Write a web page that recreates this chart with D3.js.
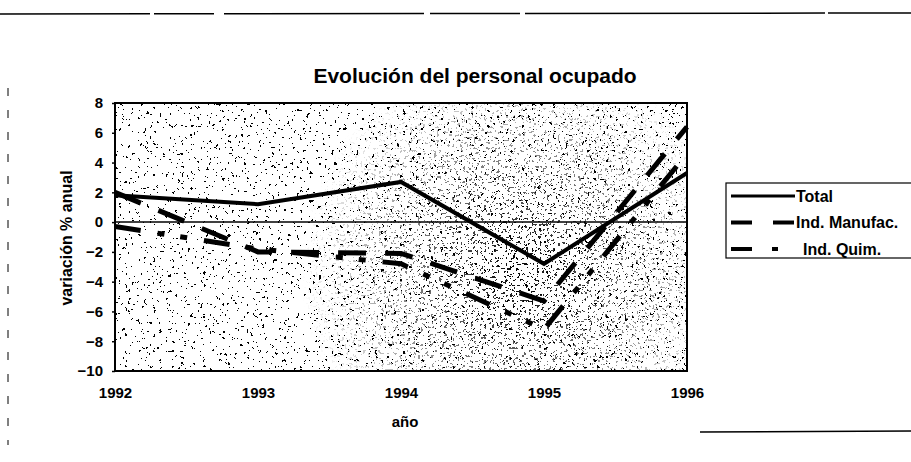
<!DOCTYPE html>
<html>
<head>
<meta charset="utf-8">
<script src="https://cdn.jsdelivr.net/npm/d3@7/dist/d3.min.js"></script>
<style>
  html, body { margin: 0; padding: 0; background: #fff; }
  svg { display: block; }
  text { font-family: "Liberation Sans", Arial, sans-serif; fill: #000; }
</style>
</head>
<body>
<svg id="chart" width="911" height="462"></svg>
<script>
// ---- data ----
const years = ["1992", "1993", "1994", "1995", "1996"];
const total = [1.8, 1.2, 2.7, -2.8, 3.3];
const manufac = [2.0, -2.0, -2.1, -5.3, 6.4];
const quim = [-0.3, -1.8, -2.8, -7.2, 4.6];
const yTicks = [8, 6, 4, 2, 0, -2, -4, -6, -8, -10];
const seriesNames = ["Total", "Ind. Manufac.", "Ind. Quim."];
const titleText = "Evolución del personal ocupado";
const yLabel = "variación % anual";
const xLabel = "año";

// ---- layout ----
const svg = d3.select("#chart");
const L = 115, R = 687, T = 103, B = 371;

const x = d3.scalePoint().domain(years).range([L, R]).padding(0);
const y = d3.scaleLinear().domain([-10, 8]).range([B, T]);

// defs: speckled scan texture
const defs = svg.append("defs");
function speckFilter(id, freq, seed, table) {
  const f = defs.append("filter").attr("id", id)
    .attr("x", 0).attr("y", 0).attr("width", 1).attr("height", 1)
    .attr("color-interpolation-filters", "sRGB");
  f.append("feTurbulence").attr("type", "fractalNoise")
    .attr("baseFrequency", freq).attr("numOctaves", 3).attr("seed", seed).attr("result", "n");
  f.append("feColorMatrix").attr("in", "n").attr("type", "matrix")
    .attr("values", "0 0 0 0 0  0 0 0 0 0  0 0 0 0 0  1 0 0 0 0");
  f.append("feComponentTransfer").append("feFuncA").attr("type", "discrete")
    .attr("tableValues", table);
}
speckFilter("speck", 0.32, 7, "0 0 0 0 0 0 0 0 0 0 0 0 0 0 1 1 1 1 1 1");
speckFilter("speck2", 0.38, 11, "0 0 0 0 0 0 0 0 0 0 0 0 0 1 1 1 1 1 1 1");
const rg = defs.append("radialGradient").attr("id", "dense")
  .attr("gradientUnits", "userSpaceOnUse").attr("cx", 520).attr("cy", 270).attr("r", 220);
rg.append("stop").attr("offset", 0).attr("stop-color", "#fff").attr("stop-opacity", 1);
rg.append("stop").attr("offset", 1).attr("stop-color", "#fff").attr("stop-opacity", 0);
defs.append("mask").attr("id", "denseMask").attr("maskUnits", "userSpaceOnUse")
  .append("rect").attr("x", L).attr("y", T).attr("width", R - L).attr("height", B - T)
  .attr("fill", "url(#dense)");

// scan decoration lines
svg.append("line").attr("x1", 0).attr("x2", 911).attr("y1", 14).attr("y2", 13)
  .attr("stroke", "#000").attr("stroke-width", 1.5)
  .attr("stroke-dasharray", "150,4,60,10,200,6,90,5,300,3");
svg.append("line").attr("x1", 700).attr("x2", 911).attr("y1", 432).attr("y2", 431)
  .attr("stroke", "#000").attr("stroke-width", 1.5);
svg.append("line").attr("x1", 8).attr("x2", 8).attr("y1", 88).attr("y2", 445)
  .attr("stroke", "#000").attr("stroke-width", 1).attr("stroke-dasharray", "8,14");

// title
svg.append("text").attr("x", 475).attr("y", 83).attr("text-anchor", "middle")
  .style("font-size", "21px").style("font-weight", "bold").text(titleText);

// plot area background
svg.append("rect").attr("x", L).attr("y", T).attr("width", R - L).attr("height", B - T)
  .attr("fill", "#fff");
svg.append("rect").attr("x", L).attr("y", T).attr("width", R - L).attr("height", B - T)
  .attr("fill", "#000").attr("filter", "url(#speck)");
svg.append("g").attr("mask", "url(#denseMask)")
  .append("rect").attr("x", L).attr("y", T).attr("width", R - L).attr("height", B - T)
  .attr("fill", "#000").attr("filter", "url(#speck2)");

// zero line
svg.append("line").attr("x1", L).attr("x2", R).attr("y1", y(0)).attr("y2", y(0))
  .attr("stroke", "#000").attr("stroke-width", 1.5);

// axes
const gy = svg.append("g").attr("transform", `translate(${L},0)`)
  .call(d3.axisLeft(y).tickValues(yTicks).tickSize(3).tickPadding(9).tickFormat(d3.format("d")));
gy.select(".domain").remove();
gy.selectAll("line").attr("stroke", "#000").attr("stroke-width", 1.5);
gy.selectAll("text").style("font-size", "15px").style("font-weight", "bold")
  .style("font-family", '"Liberation Sans", Arial, sans-serif');

const gx = svg.append("g").attr("transform", `translate(0,${B})`)
  .call(d3.axisBottom(x).tickSize(0).tickPadding(16));
gx.select(".domain").remove();
gx.selectAll("text").style("font-size", "15px").style("font-weight", "bold")
  .style("font-family", '"Liberation Sans", Arial, sans-serif');

// plot border
svg.append("rect").attr("x", L).attr("y", T).attr("width", R - L).attr("height", B - T)
  .attr("fill", "none").attr("stroke", "#000").attr("stroke-width", 2);

// axis titles
svg.append("text").attr("transform", `translate(72,238) rotate(-90)`)
  .attr("text-anchor", "middle").style("font-size", "16px").style("font-weight", "bold")
  .text(yLabel);
svg.append("text").attr("x", 405).attr("y", 427).attr("text-anchor", "middle")
  .style("font-size", "15px").style("font-weight", "bold").text(xLabel);

// lines
const line = d3.line().x((d, i) => x(years[i])).y(d => y(d));
const styles = [
  { data: total, width: 4, dash: null, legendDash: null },
  { data: manufac, width: 5, dash: "28,19", legendDash: "21,21" },
  { data: quim, width: 5, dash: "26,17,7,16,7,17", legendDash: "21,20,6,40" }
];
styles.forEach(s => {
  svg.append("path").datum(s.data).attr("d", line)
    .attr("fill", "none").attr("stroke", "#000").attr("stroke-width", s.width)
    .attr("stroke-linejoin", "miter")
    .attr("stroke-dasharray", s.dash);
});

// legend
const lg = svg.append("g");
lg.append("rect").attr("x", 726).attr("y", 183).attr("width", 200).attr("height", 75)
  .attr("fill", "#fff").attr("stroke", "#000").attr("stroke-width", 1.2);
const rows = [196, 222.5, 249];
seriesNames.forEach((name, i) => {
  lg.append("line").attr("x1", 731).attr("x2", 795).attr("y1", rows[i]).attr("y2", rows[i])
    .attr("stroke", "#000").attr("stroke-width", i === 0 ? 3 : 4)
    .attr("stroke-dasharray", styles[i].legendDash);
  lg.append("text").attr("x", i === 2 ? 803 : 796).attr("y", rows[i]).attr("dy", "0.36em")
    .style("font-size", "16px").style("font-weight", "bold").text(name);
});
</script>
</body>
</html>
